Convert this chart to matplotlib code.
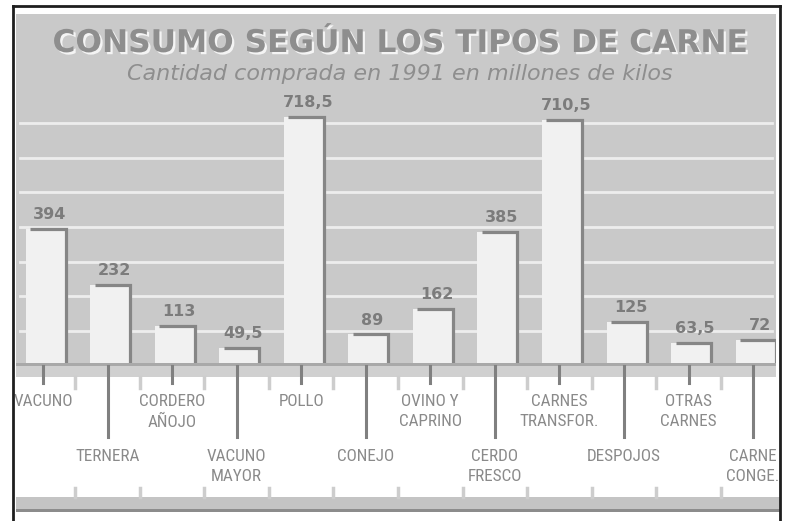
import matplotlib.pyplot as plt
import matplotlib.transforms as mtransforms
import matplotlib.patheffects as pe
from matplotlib import font_manager
from matplotlib.patches import Rectangle

# datos: consumo por tipo de carne, 1991 (millones de kilos)
categorias = ['VACUNO', 'TERNERA', 'CORDERO\nAÑOJO', 'VACUNO\nMAYOR', 'POLLO', 'CONEJO',
              'OVINO Y\nCAPRINO', 'CERDO\nFRESCO', 'CARNES\nTRANSFOR.', 'DESPOJOS',
              'OTRAS\nCARNES', 'CARNE\nCONGE.']
valores = [394, 232, 113, 49.5, 718.5, 89, 162, 385, 710.5, 125, 63.5, 72]
etiquetas = ['394', '232', '113', '49,5', '718,5', '89', '162', '385', '710,5', '125', '63,5', '72']
rejilla = [100, 200, 300, 400, 500, 600, 700]

titulo = 'CONSUMO SEGÚN LOS TIPOS DE CARNE'
subtitulo = 'Cantidad comprada en 1991 en millones de kilos'

W, H = 786, 521
def fx(x): return x / W
def fy(y): return 1 - y / H

gris = '#c9c9c9'
gris_txt = '#8a8a8a'
gris_linea = '#868686'

# buscar una fuente estrecha instalada para los rotulos del eje
def fuente_estrecha():
    prefs = ['liberation sans narrow', 'roboto condensed', 'open sans condensed',
             'noto sans', 'dejavu sans']
    cands = []
    for f in font_manager.fontManager.ttflist:
        nom = (f.name + ' ' + f.fname).lower()
        if f.style != 'normal':
            continue
        if not ('narrow' in nom or 'condensed' in nom or f.stretch in ('condensed', 'semi-condensed')):
            continue
        if 'extra' in nom or 'semi' in nom or 'ultra' in nom:
            continue
        w = f.weight if isinstance(f.weight, int) else 400
        rango = len(prefs)
        for k, p in enumerate(prefs):
            if p in nom:
                rango = k
                break
        cands.append((rango, abs(w - 450), f.fname))
    if cands:
        cands.sort()
        return font_manager.FontProperties(fname=cands[0][2]), True
    return font_manager.FontProperties(family='Roboto'), False

fp_rotulo, es_estrecha = fuente_estrecha()
tam_rotulo = 12.3 if es_estrecha else 10.5

fig = plt.figure(figsize=(W / 100, H / 100), dpi=100)
fig.patch.set_facecolor('white')

def caja(x0, y0, x1, y1, color, z):
    fig.add_artist(Rectangle((fx(x0), fy(y1)), fx(x1) - fx(x0), fy(y0) - fy(y1),
                             transform=fig.transFigure, color=color, zorder=z, lw=0))

# fondo gris del grafico
caja(16, 14, 776, 366, gris, -1)

# ejes para las barras
escala = 0.345  # px por millon de kilos
ax = fig.add_axes([fx(16), fy(365), (776 - 16) / W, (365 - 15) / H])
ax.set_axis_off()
x = list(range(len(valores)))
ax.set_xlim((16 - 43) / 64.55, (776 - 43) / 64.55)
ax.set_ylim(0, 350 / escala)

for g in rejilla:
    ax.axhline(g, xmin=0.005, xmax=0.995, color='#ededed', lw=2, zorder=1)

ancho = 0.62
xb = [xi + 0.04 for xi in x]
ax.bar(xb, valores, width=ancho, color='#f1f1f1', zorder=2, lw=0)
for xi, v, et in zip(xb, valores, etiquetas):
    xl = xi - ancho / 2 + 0.07
    xr = xi + ancho / 2
    ax.plot([xl, xr, xr], [v, v, 0], color=gris_linea, lw=2.3, zorder=3,
            solid_joinstyle='miter', solid_capstyle='butt')
    ax.annotate(et, (xi, v), xytext=(3, 7), textcoords='offset points',
                ha='center', va='baseline', fontsize=11.5, fontweight='bold',
                color='#7c7c7c', zorder=4)

# titulo con sombra blanca
fig.text(fx(400), fy(52), titulo, ha='center', va='baseline',
         fontsize=22.5, fontweight='bold', color='#8e8e8e', zorder=6,
         path_effects=[pe.SimplePatchShadow(offset=(1.6, -1.6), shadow_rgbFace='#f4f4f4', alpha=1.0),
                       pe.Normal()])
fig.text(fx(400), fy(80), subtitulo, ha='center', va='baseline',
         fontsize=16, fontstyle='italic', color='#8e8e8e', zorder=6)

# franja bajo la linea base y zona de etiquetas
caja(16, 363, 776, 366, '#a9a9a9', 2)
caja(16, 366, 776, 377, '#d0d0d0', 2)
caja(16, 497, 780, 509, '#c4c4c4', 2)
caja(16, 509, 780, 512, '#8c8c8c', 2)

mezcla = mtransforms.blended_transform_factory(ax.transData, fig.transFigure)
for i, (xi, cat) in enumerate(zip(x, categorias)):
    abajo = 383 if i % 2 == 0 else 437
    fig.add_artist(plt.Line2D([xi, xi], [fy(366), fy(abajo)], transform=mezcla,
                              color='#808080', lw=2.2, zorder=3))
    ytxt = 394 if i % 2 == 0 else 449
    fig.text(xi, fy(ytxt), cat, transform=mezcla, ha='center', va='top',
             fontproperties=fp_rotulo, fontsize=tam_rotulo, color=gris_txt,
             linespacing=1.45, multialignment='center', zorder=4)
    if i < len(x) - 1:
        xm = xi + 0.5
        for y0, y1 in [(377, 388), (488, 497)]:
            fig.add_artist(plt.Line2D([xm, xm], [fy(y0), fy(y1)], transform=mezcla,
                                      color='#cdcdcd', lw=2.5, zorder=3))

# marco negro
for xs, ys in [([13, 780], [6, 6]), ([13, 13], [6, 521]), ([780, 780], [6, 521])]:
    fig.add_artist(plt.Line2D([fx(v) for v in xs], [fy(v) for v in ys],
                              transform=fig.transFigure, color='#1e1e1e', lw=2, zorder=7))

fig.savefig('out.png', dpi=100, facecolor='white')
